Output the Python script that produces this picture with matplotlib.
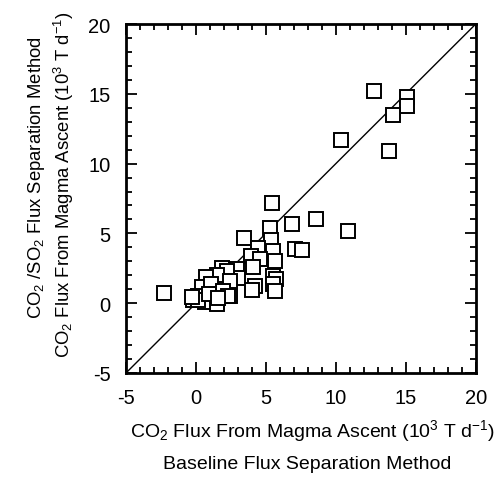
import matplotlib
matplotlib.use('Agg')
import matplotlib.pyplot as plt
from matplotlib.ticker import MultipleLocator

plt.rcParams['font.family'] = ['Liberation Sans', 'DejaVu Sans']
plt.rcParams['mathtext.default'] = 'regular'
plt.rcParams['axes.unicode_minus'] = False

# CO2 flux, baseline method (x) vs CO2/SO2 method (y), 10^3 T/d
baseline = [12.7, 15.05, 15.1, 14.05, 10.4, 13.8, 8.6, 10.85,
            5.4, 5.3, 6.9, 3.4, 5.35, 5.5, 7.05, 7.55, 4.4, 3.9, 4.6, 5.65,
            4.05, 2.9, 3.0, 5.5, 5.75, 5.5, 5.65, 4.2, 4.0, 2.45,
            -2.3, 0.0, 1.85, 2.2, 1.5, 0.75, 2.4, 0.4, 1.1, 0.15,
            -0.2, 0.65, 1.5, 1.95, 2.3, 0.15, 0.9, 1.6, -0.3]
co2_so2 = [15.2, 14.8, 14.1, 13.5, 11.7, 10.9, 6.05, 5.2,
           7.2, 5.4, 5.7, 4.7, 4.5, 3.75, 3.9, 3.8, 3.95, 3.35, 3.2, 3.05,
           2.6, 2.45, 1.8, 1.95, 1.7, 1.35, 0.9, 1.2, 0.95, 0.55,
           0.75, 0.3, 2.55, 2.3, 2.0, 1.85, 1.6, 1.15, 1.35, 0.55,
           0.2, 0.05, -0.05, 0.9, 0.55, 0.2, 0.65, 0.4, 0.45]

fig = plt.figure(figsize=(5.04, 4.81), dpi=100)
ax = fig.add_axes([0.25, 0.2225, 0.694, 0.7255])

ax.plot([-5, 20], [-5, 20], color='black', lw=1.0)
ax.plot(baseline, co2_so2, linestyle='none', marker='s', markersize=10,
        markerfacecolor='white', markeredgecolor='black', markeredgewidth=1.4)

ax.set_xlim(-5, 20)
ax.set_ylim(-5, 20)
ax.xaxis.set_major_locator(MultipleLocator(5))
ax.yaxis.set_major_locator(MultipleLocator(5))
ax.xaxis.set_minor_locator(MultipleLocator(1))
ax.yaxis.set_minor_locator(MultipleLocator(1))
ax.tick_params(which='both', direction='in', top=True, right=True, width=1.3)
ax.tick_params(which='major', length=8, labelsize=14.5, pad=11)
ax.tick_params(which='minor', length=4.5)
for s in ax.spines.values():
    s.set_linewidth(2)

label = r'CO$_2$ Flux From Magma Ascent (10$^3$ T d$^{-1}$)'
fig.text(0.62, 1 - 431 / 481, label, ha='center', va='center', fontsize=14)
fig.text(0.61, 1 - 465 / 481, 'Baseline Flux Separation Method',
         ha='center', va='center', fontsize=14)
fig.text(64 / 504, 1 - 185 / 481, label,
         ha='center', va='center', rotation=90, fontsize=13.3)
fig.text(37 / 504, 1 - 178 / 481, r'CO$_2$ /SO$_2$ Flux Separation Method',
         ha='center', va='center', rotation=90, fontsize=13.3)

fig.savefig('out.png', dpi=100)
